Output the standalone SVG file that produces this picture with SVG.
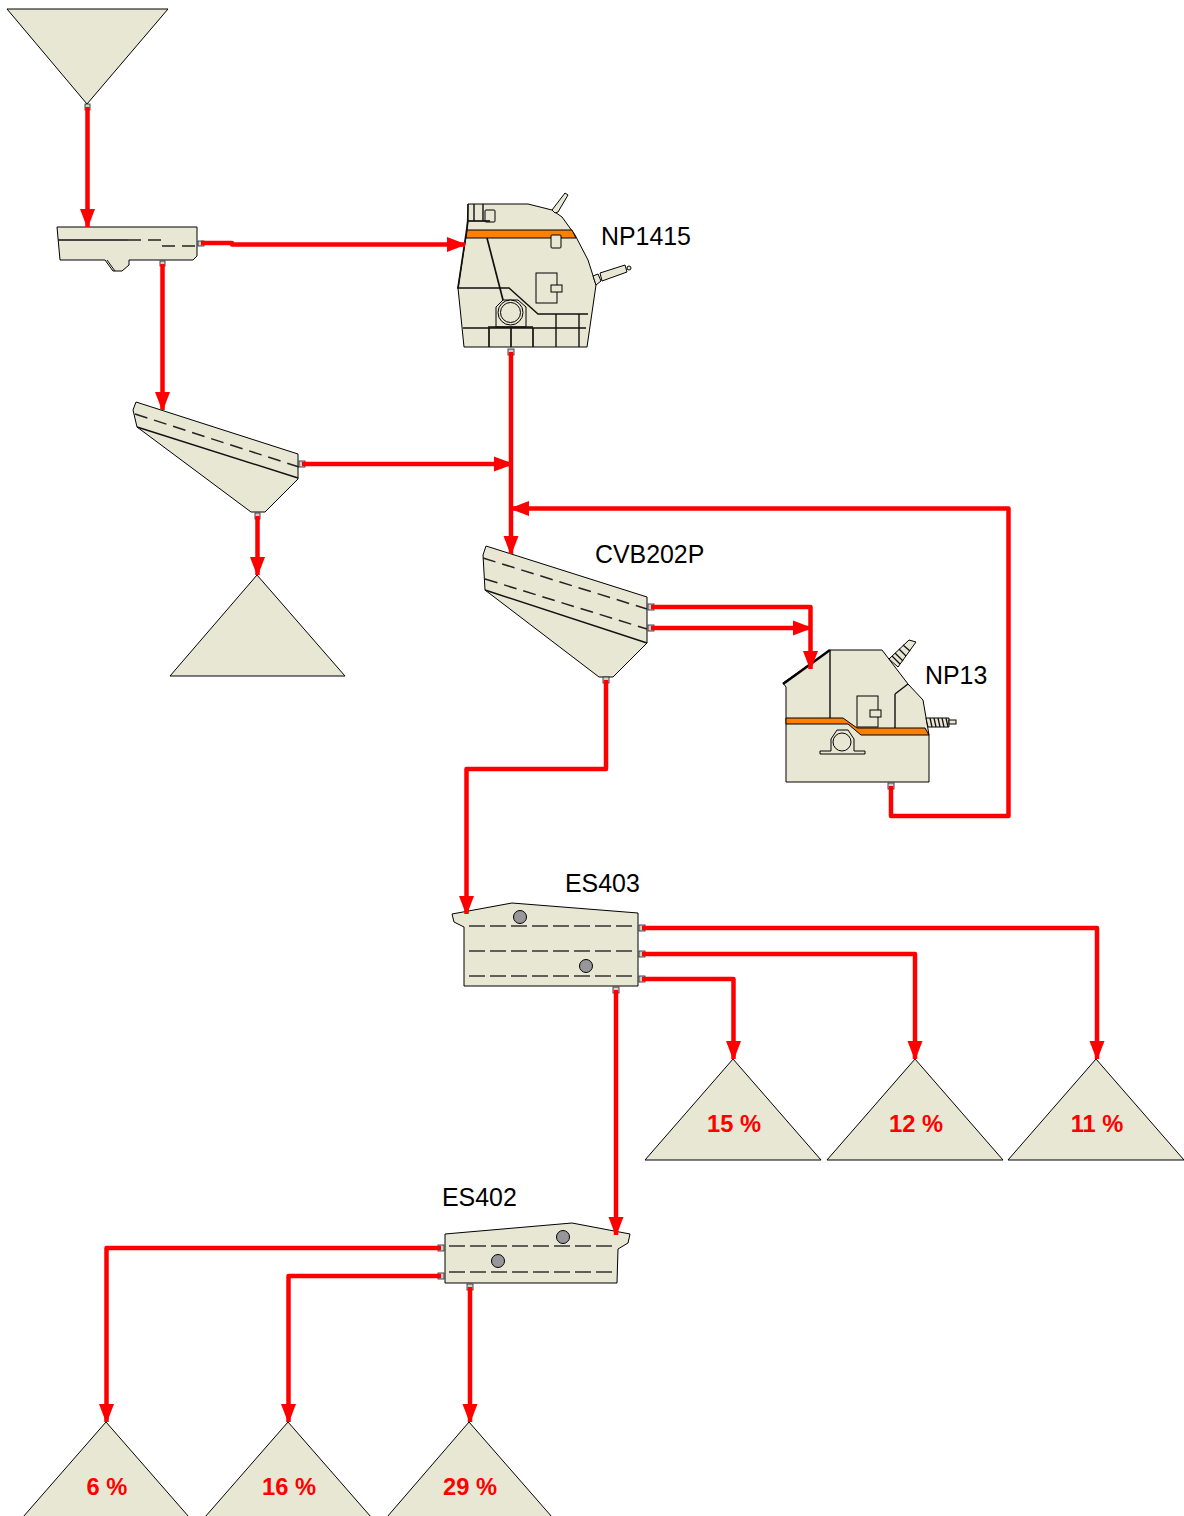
<svg xmlns="http://www.w3.org/2000/svg" width="1184" height="1516" viewBox="0 0 1184 1516">
<defs>
<marker id="ah" markerUnits="userSpaceOnUse" markerWidth="20" markerHeight="18" refX="18" refY="8" orient="auto"><path d="M0 0.500 L17 7 Q18 8 17 9 L0 15.500 Z" fill="#ff0000"/></marker>
</defs>
<style>
.b{fill:#e8e7d3;stroke:#000;stroke-width:1}
.l{fill:none;stroke:#111;stroke-width:1.4}
.t{fill:none;stroke:#111;stroke-width:1.7}
.d{fill:none;stroke:#222;stroke-width:1.5;stroke-dasharray:13 7}
.e{fill:none;stroke:#333;stroke-width:1.6;stroke-dasharray:16 5}
.o{fill:#ff8000;stroke:#000;stroke-width:1}
.g{fill:#97979b;stroke:#000;stroke-width:1}
.p{fill:#cfcfcf;stroke:#333;stroke-width:.9}
.c{fill:none;stroke:#ff0000;stroke-width:4.500;stroke-linejoin:round}
.n{font:24.900px "Liberation Sans",Arial,sans-serif;fill:#000}
.v{font:bold 23.700px "Liberation Sans",Arial,sans-serif;fill:#ff0000;text-anchor:middle}
</style>
<g id="hopper"><path class="b" d="M7 9H168L87 104Z"/><rect class="p" x="85" y="104" width="5" height="6"/></g>
<g id="feeder">
<path class="b" d="M57 227H197V256L193 260H129V265L122 271H113L105 260H60Z"/>
<path class="l" d="M58 240H128"/><path class="d" d="M128 240H163M162 246H198"/>
<path fill="none" stroke="#111" d="M107 260L115 271"/>
<rect class="p" x="198" y="241" width="6" height="5"/><rect class="p" x="160" y="261" width="5" height="5"/>
</g>
<g id="np1415">
<path class="b" d="M468 204H528L552 210L562 217L575 235L588 260L596 285L587 347H464L458 288L467 230Z"/>
<path class="b" d="M552 210L565 193L568 195L558 212L555 213Z"/>
<path class="b" d="M593 276L598 274L601 281L596 285ZM600 273L625 265L627 272L602 281Z"/><circle class="b" cx="629" cy="268" r="2"/>
<path class="o" d="M467 230H572L576 238H466Z"/>
<rect class="b" x="485" y="210" width="10" height="12" rx="1"/><rect class="b" x="551" y="235" width="10" height="13" rx="1"/>
<path class="l" d="M468 204V221M474 204V221M483 204V221"/><path class="t" d="M468 221H490"/>
<path class="t" d="M468 221L458 288"/>
<path class="t" d="M487 238L503 300"/>
<path class="l" d="M457 288H509L538 314H588"/>
<rect class="b" x="536" y="273" width="21" height="30"/><rect class="b" x="551" y="285" width="11" height="7"/>
<path class="l" d="M556 314V347M579 314V347"/>
<path class="l" d="M463 328H586"/>
<path class="t" d="M489 328V347M511 328V347M533 328V347"/>
<path class="b" d="M496 327V307L503 300H518L526 307V327Z"/><circle class="b" cx="510.500" cy="312.500" r="12.500"/><circle class="b" cx="510.500" cy="312.500" r="10"/>
<path class="t" d="M488 327H533"/>
<rect class="p" x="508" y="349" width="6" height="6"/>
</g>
<text class="n" x="601" y="245">NP1415</text>
<g id="screen1">
<path class="b" d="M136 402L298 454V479L265 512H251L137 427L133 410Z"/>
<path class="l" d="M137 427L298 478"/><path class="d" d="M135 414L299 467"/>
<rect class="p" x="299" y="461" width="6" height="6"/><rect class="p" x="255" y="513" width="5" height="6"/>
</g>
<g id="pile1"><path class="b" d="M257 575L345 676H170Z"/></g>
<g id="cvb202p">
<path class="b" d="M486 546L647 597V643L613 677H599L485 590L483 555Z"/>
<path class="l" d="M485 590L647 643"/>
<path class="d" d="M483 558L647 609"/><path class="d" d="M485 579L647 629"/>
<rect class="p" x="648" y="604" width="6" height="6"/><rect class="p" x="648" y="625" width="6" height="6"/><rect class="p" x="603" y="677" width="6" height="6"/>
</g>
<text class="n" x="595" y="563">CVB202P</text>
<g id="np13">
<path class="b" d="M783 683L830 650H882L908 684L923 700L929 735V782H786V687Z"/>
<path class="b" d="M889 659L909 640L916 642L898 667Z"/>
<path fill="none" stroke="#111" stroke-width="1.300" d="M892 656L900 664M895 653L903 661M899 649L906 656M903 645L910 651"/>
<path d="M783 684L830 650" stroke="#000" stroke-width="2.500" fill="none"/>
<path class="l" d="M830 650V718M895 694L908 684M895 694V728"/>
<rect class="b" x="857" y="696" width="21" height="31"/><rect class="b" x="870" y="710" width="11" height="7"/>
<path class="o" d="M786 718H843L857 728H925L929 735H861L848 724H786Z"/>
<path class="b" d="M926 718H949V727H928Z"/><rect class="b" x="949" y="720" width="7" height="4"/>
<path fill="none" stroke="#111" stroke-width="1.300" d="M930 718L932 727M934 718L936 727M938 718L940 727M942 718L944 727M946 718L948 727"/>
<path class="b" d="M820 754V751H831V739L837 730H848L854 739V751H865V754Z"/><circle class="b" cx="842" cy="742" r="9"/>
<rect class="p" x="888" y="783" width="6" height="6"/>
</g>
<text class="n" x="925" y="684">NP13</text>
<g id="es403">
<path class="b" d="M452 914L512 903L638 913V986H464V927L454 922Z"/>
<path class="e" d="M469 926H636M469 951H636M469 976H636"/>
<circle class="g" cx="520" cy="917" r="6.500"/><circle class="g" cx="586" cy="966" r="6.500"/>
<rect class="p" x="639" y="925" width="6" height="6"/><rect class="p" x="639" y="951" width="6" height="6"/><rect class="p" x="639" y="976" width="6" height="6"/><rect class="p" x="613" y="987" width="6" height="6"/>
</g>
<text class="n" x="565" y="892">ES403</text>
<g id="es402">
<path class="b" d="M445 1234L572 1223L630 1234L628 1243L618 1249L617 1283H445Z"/>
<path class="e" d="M449 1246H615M449 1272H615"/>
<circle class="g" cx="563" cy="1237" r="6.500"/><circle class="g" cx="498" cy="1261" r="6.500"/>
<rect class="p" x="438" y="1245" width="6" height="6"/><rect class="p" x="438" y="1273" width="6" height="6"/><rect class="p" x="467" y="1284" width="6" height="6"/>
</g>
<text class="n" x="442" y="1206">ES402</text>
<g id="p15"><path class="b" d="M733 1059L821 1160H645Z"/><text class="v" x="734" y="1132">15 %</text></g>
<g id="p12"><path class="b" d="M915 1059L1003 1160H827Z"/><text class="v" x="916" y="1132">12 %</text></g>
<g id="p11"><path class="b" d="M1096 1059L1184 1160H1008Z"/><text class="v" x="1097" y="1132">11 %</text></g>
<g id="p6"><path class="b" d="M106 1422L189 1517H23Z"/><text class="v" x="107" y="1495">6 %</text></g>
<g id="p16"><path class="b" d="M288 1422L371 1517H205Z"/><text class="v" x="289" y="1495">16 %</text></g>
<g id="p29"><path class="b" d="M469 1422L552 1517H387Z"/><text class="v" x="470" y="1495">29 %</text></g>
<g id="connectors">
<path class="c" marker-end="url(#ah)" d="M87.500 107V227"/>
<path class="c" marker-end="url(#ah)" d="M201 243H232V244.500H465"/>
<path class="c" marker-end="url(#ah)" d="M162.500 264V410"/>
<path class="c" marker-end="url(#ah)" d="M302 464H512"/>
<path class="c" marker-end="url(#ah)" d="M257.500 516V575"/>
<path class="c" marker-end="url(#ah)" d="M511 352V554"/>
<path class="c" marker-end="url(#ah)" d="M891 786V816H1008.500V508.500H511"/>
<path class="c" marker-end="url(#ah)" d="M651 607H810.500V669"/>
<path class="c" marker-end="url(#ah)" d="M651 628H811"/>
<path class="c" marker-end="url(#ah)" d="M606 680V769H466.500V914"/>
<path class="c" marker-end="url(#ah)" d="M642 928H1097V1059"/>
<path class="c" marker-end="url(#ah)" d="M642 954H915V1059"/>
<path class="c" marker-end="url(#ah)" d="M642 979H733.500V1059"/>
<path class="c" marker-end="url(#ah)" d="M616 990V1235"/>
<path class="c" marker-end="url(#ah)" d="M441 1248H106.500V1422"/>
<path class="c" marker-end="url(#ah)" d="M441 1276H288.500V1422"/>
<path class="c" marker-end="url(#ah)" d="M470 1287V1422"/>
</g>
</svg>
